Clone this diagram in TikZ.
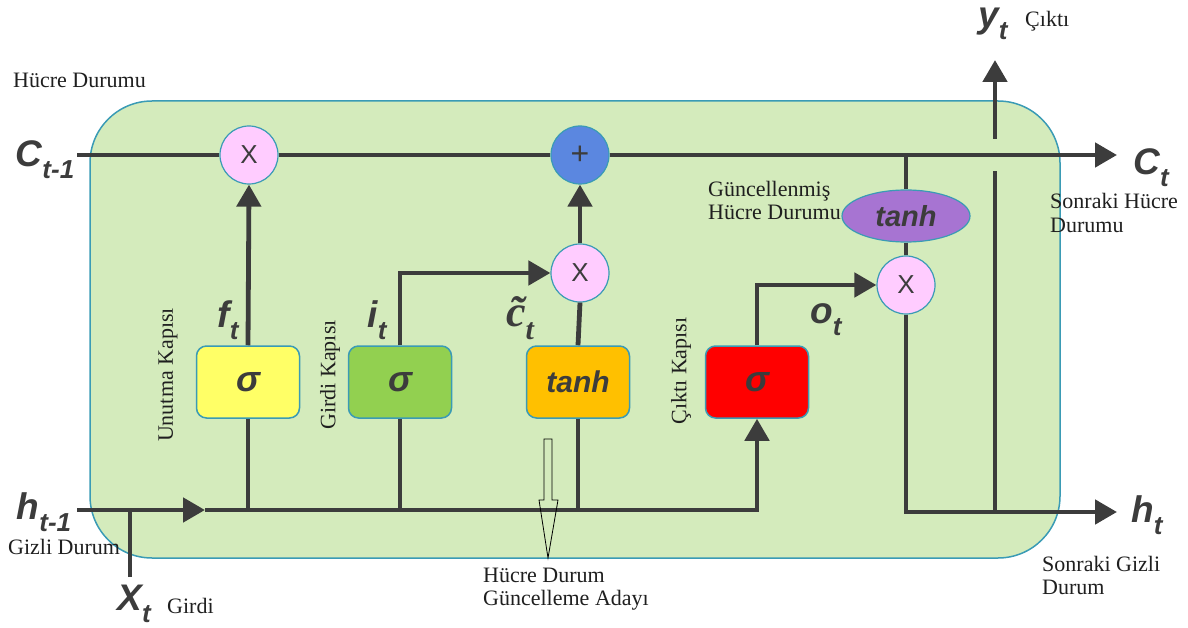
\documentclass[tikz,border=0pt]{standalone}
\usepackage{fontspec}
\setmainfont{Liberation Serif}
\newfontfamily\lsans{Liberation Sans}
\usetikzlibrary{arrows.meta,shapes.geometric,calc}
\definecolor{cellfill}{HTML}{D4EBBC}
\definecolor{cellborder}{HTML}{3A9BB5}
\definecolor{ink}{HTML}{3C3C3C}
\definecolor{pinkc}{HTML}{FFCCFF}
\definecolor{bluec}{HTML}{5B87E0}
\definecolor{purplec}{HTML}{A774D2}
\definecolor{yellowc}{HTML}{FFFF66}
\definecolor{greenc}{HTML}{92D050}
\definecolor{orangec}{HTML}{FFC000}
\definecolor{redc}{HTML}{FF0000}
\tikzset{
  wire/.style={draw=ink, line width=4.8pt},
  tip/.style={-{Triangle[length=22pt,width=24pt]}},
  opnode/.style={circle, draw=cellborder, line width=1.2pt, minimum size=58pt, inner sep=0pt, text=ink, font=\lsans\fontsize{26}{26}\selectfont},
  gatebox/.style={rectangle, rounded corners=10pt, draw=cellborder, line width=1.5pt, minimum width=103pt, minimum height=72pt, inner sep=0pt, text=ink, font=\lsans\bfseries\itshape\fontsize{36}{36}\selectfont},
  sym/.style={text=ink, inner sep=0pt, font=\lsans\bfseries\itshape\fontsize{37}{37}\selectfont},
  note/.style={inner sep=0pt, text=black!88, font=\fontsize{22}{23}\selectfont, align=left},
  vnote/.style={note, rotate=90}
}
\newcommand{\sbs}[1]{\raisebox{-0.33em}{\fontsize{26}{26}\selectfont #1}}
\begin{document}
\begin{tikzpicture}[x=1pt,y=-1pt]
\useasboundingbox (0,0) rectangle (1188,628);
% cell
\draw[fill=cellfill, draw=cellborder, line width=1.5pt, rounded corners=62pt] (90,101) rectangle (1060,558);

% operator nodes
\node[opnode, fill=pinkc] (m1) at (249,155) {X};
\node[opnode, fill=bluec, font=\lsans\fontsize{32}{32}\selectfont] (pl) at (580,155) {+};
\node[opnode, fill=pinkc] (m2) at (580,273) {X};
\node[opnode, fill=pinkc] (m3) at (906,285) {X};
\node[ellipse, draw=cellborder, line width=1.2pt, fill=purplec, minimum width=128pt, minimum height=52pt, inner sep=0pt, text=ink, font=\lsans\bfseries\itshape\fontsize{29}{29}\selectfont] (th) at (906,216) {tanh};

% gates
\node[gatebox, fill=yellowc] (fg) at (248,382) {σ};
\node[gatebox, fill=greenc] (ig) at (400,382) {σ};
\node[gatebox, fill=orangec, font=\lsans\bfseries\itshape\fontsize{30}{30}\selectfont] (cg) at (578,382) {tanh};
\node[gatebox, fill=redc] (og) at (757,382) {σ};

% coordinates
\coordinate (cin) at (77,155);
\coordinate (cout) at (1117,155);
\coordinate (cj) at (906,155);
\coordinate (hin) at (77,510);
\coordinate (harr) at (205,510);
\coordinate (hout) at (1117,512);
\coordinate (xin) at (130,577);
\coordinate (xj) at (130,510);
\coordinate (ybot) at (995,512);
\coordinate (ylow) at (995,171);
\coordinate (yhigh) at (995,139);
\coordinate (ytop) at (995,60);

% cell state line
\draw[wire] (cin) -- (m1);
\draw[wire] (m1) -- (pl);
\draw[wire, tip] (pl) -- (cout);

% hidden line
\draw[wire, tip] (hin) -- (harr);
\draw[wire, tip] (harr) -| (og.south);
\draw[wire] (xin) -- (xj);
\draw[wire] (fg.south) -- (fg.south |- hin);
\draw[wire] (ig.south) -- (ig.south |- hin);
\draw[wire] (cg.south) -- (cg.south |- hin);

% gates up
\draw[wire, tip] (fg.north) -- (m1.south);
\draw[wire, tip] (ig.north) |- (m2.west);
\draw[wire] (cg.north) -- (m2.south);
\draw[wire, tip] (m2.north) -- (pl.south);
\draw[wire, tip] (og.north) |- (m3.west);

% output path
\draw[wire] (cj) -- (th.north);
\draw[wire] (th.south) -- (m3.north);
\draw[wire, tip] (m3.south) |- (hout);
\draw[wire] (ybot) -- (ylow);
\draw[wire, tip] (yhigh) -- (ytop);

% hollow arrow
\draw[black, line width=0.8pt] (544,439) -- (552,439) -- (552,500) -- (558,500) -- (548,558) -- (539,500) -- (544,500) -- cycle;

% symbol labels
\node[sym] (lc1) at (45,160) {C\sbs{t-1}};
\node[sym] (lct) at (1151,168) {C\sbs{t}};
\node[sym] (lyt) at (993,24) {y\sbs{t}};
\node[sym] (lh1) at (44,512) {h\sbs{t-1}};
\node[sym] (lht) at (1147,515) {h\sbs{t}};
\node[sym] (lxt) at (134,604) {X\sbs{t}};
\node[sym] (lft) at (228,320) {f\sbs{t}};
\node[sym] (lit) at (377,320) {i\sbs{t}};
\node[sym] (lot) at (826,320) {o\sbs{t}};
\node[text=ink, inner sep=0pt, font=\bfseries\itshape\fontsize{44}{44}\selectfont] (lcc) at (520,318) {\~{c}\raisebox{-0.3em}{\fontsize{30}{30}\selectfont t}};

% notes
\node[note, anchor=west] (n1) at (13,80) {Hücre Durumu};
\node[note, anchor=west] (n2) at (1025,21) {Çıktı};
\node[note, anchor=north west] (n3) at (1050,193) {Sonraki Hücre\\[1pt]Durumu};
\node[note, anchor=north west] (n4) at (708,181) {Güncellenmiş\\Hücre Durumu};
\node[note, anchor=west] (n5) at (8,547) {Gizli Durum};
\node[note, anchor=west] (n6) at (167,606) {Girdi};
\node[note, anchor=north west] (n7) at (483,568) {Hücre Durum\\Güncelleme Adayı};
\node[note, anchor=north west] (n8) at (1042,556) {Sonraki Gizli\\Durum};
\node[vnote] (v1) at (168,375) {Unutma Kapısı};
\node[vnote] (v2) at (330,375) {Girdi Kapısı};
\node[vnote] (v3) at (681,371) {Çıktı Kapısı};
\end{tikzpicture}
\end{document}
